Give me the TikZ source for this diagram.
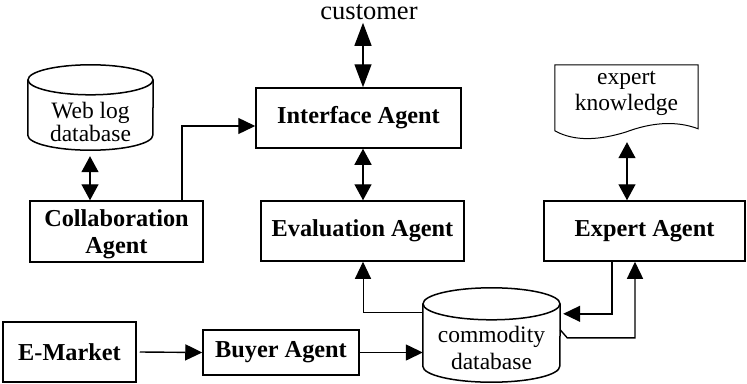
\documentclass[tikz,border=0pt]{standalone}
\usepackage{fontspec}
\setmainfont{Liberation Serif}
\usetikzlibrary{arrows.meta,calc}
\begin{document}
\begin{tikzpicture}[x=1pt,y=-1pt,
  agent/.style={draw,line width=1.5pt,inner sep=0pt,align=center,
    font=\fontsize{24.3}{27}\selectfont\bfseries},
  plain/.style={inner sep=0pt,align=center,font=\fontsize{23.5}{25}\selectfont},
  area/.style={inner sep=0pt,minimum width=#1},
  conn/.style={line width=1.4pt},
  thin/.style={line width=1pt},
  tip/.style={-{Triangle[length=17pt,width=16pt]}},
  both/.style={{Triangle[length=16pt,width=17pt]}-{Triangle[length=16pt,width=17pt]}},
  bigboth/.style={{Triangle[length=23pt,width=17pt]}-{Triangle[length=23pt,width=17pt]}}]
\useasboundingbox (0,0) rectangle (747,383);

% agent boxes
\node[agent,minimum width=205pt,minimum height=60pt] (ia) at (358.5,118) {Interface Agent};
\node[agent,minimum width=203pt,minimum height=60pt] (ea) at (362.5,231) {Evaluation Agent};
\node[agent,minimum width=173pt,minimum height=61pt] (ca) at (116.5,231.5) {};
\node[inner sep=0pt,align=center,font=\fontsize{24.3}{27}\selectfont\bfseries]
  (catxt) at (116.5,234) {Collaboration\\Agent};
\node[agent,minimum width=201pt,minimum height=60pt] (xa) at (644.5,231) {Expert Agent};
\node[agent,minimum width=133pt,minimum height=60pt] (em) at (69.5,352) {E-Market};
\node[agent,minimum width=156pt,minimum height=45pt] (ba) at (281,352.5) {Buyer Agent};

% customer
\node[inner sep=0pt,font=\fontsize{26.5}{28}\selectfont] (cust) at (369,12) {customer};

% web log database (cylinder)
\node[area=125pt,minimum height=85pt] (web) at (90.5,107.5) {};
\draw[line width=1.5pt] ($(web.north west)+(0,15)$)
  -- ($(web.south west)+(0,-15)$)
  arc[start angle=180,end angle=360,x radius=62.5pt,y radius=15pt]
  -- ($(web.north east)+(0,15)$);
\draw[line width=1.5pt] ($(web.north)+(0,15)$) ellipse[x radius=62.5pt,y radius=15pt];
\node[plain,font=\fontsize{23.5}{23}\selectfont] (webtxt) at (90.5,122) {Web log\\database};

% commodity database (cylinder)
\node[area=137pt,minimum height=94pt] (com) at (491.5,335) {};
\draw[line width=1.5pt] ($(com.north west)+(0,16)$)
  -- ($(com.south west)+(0,-16)$)
  arc[start angle=180,end angle=360,x radius=68.5pt,y radius=16pt]
  -- ($(com.north east)+(0,16)$);
\draw[line width=1.5pt] ($(com.north)+(0,16)$) ellipse[x radius=68.5pt,y radius=16pt];
\node[plain,font=\fontsize{23.5}{27}\selectfont] (comtxt) at (491.5,348) {commodity\\database};

% expert knowledge (document)
\node[area=143pt,minimum height=75pt] (doc) at (626.5,102.5) {};
\draw[line width=1pt] (doc.north west) -- ($(doc.north west)+(0,66)$)
  .. controls (575,142) and (600,140) .. (626,132)
  .. controls (650,123) and (675,120) .. ($(doc.north east)+(0,64)$)
  -- (doc.north east) -- cycle;
\node[plain,font=\fontsize{23.5}{26}\selectfont] (doctxt) at (626.5,93) {expert\\knowledge};

% anchor columns for vertical connectors
\coordinate (xm) at (363,0);
\coordinate (xw) at (90,0);
\coordinate (xd) at (627,0);
\coordinate (xc) at (182,0);
\coordinate (xo) at (612,0);
\coordinate (xi) at (635,0);

% connectors
\draw[conn,bigboth] (cust.south -| xm) ++(0,3) -- (ia.north -| xm);
\draw[conn,both] (ia.south -| xm) -- (ea.north -| xm);
\draw[conn,both] (web.south -| xw) ++(0,6) -- (ca.north -| xw);
\draw[conn,both] (doc.south -| xd) ++(0,2) -- (xa.north -| xd);
\draw[conn,tip] (ca.north -| xc) |- ($(ia.west)+(0,8)$);
\draw[conn,tip] (em.east) ++(3,0) -- (ba.west);
\draw[conn,tip] (ba.east) -- (ba.east -| com.west);
\draw[thin,tip] ($(com.north west)+(0,25)$) -| (ea.south -| xm);
\draw[conn,tip] (xa.south -| xo) |- ($(com.north east)+(3,26)$);
\draw[conn,tip] ($(com.north east)+(0,42)$) -- ($(com.north east)+(7,50)$)
  -| (xa.south -| xi);
\end{tikzpicture}
\end{document}
